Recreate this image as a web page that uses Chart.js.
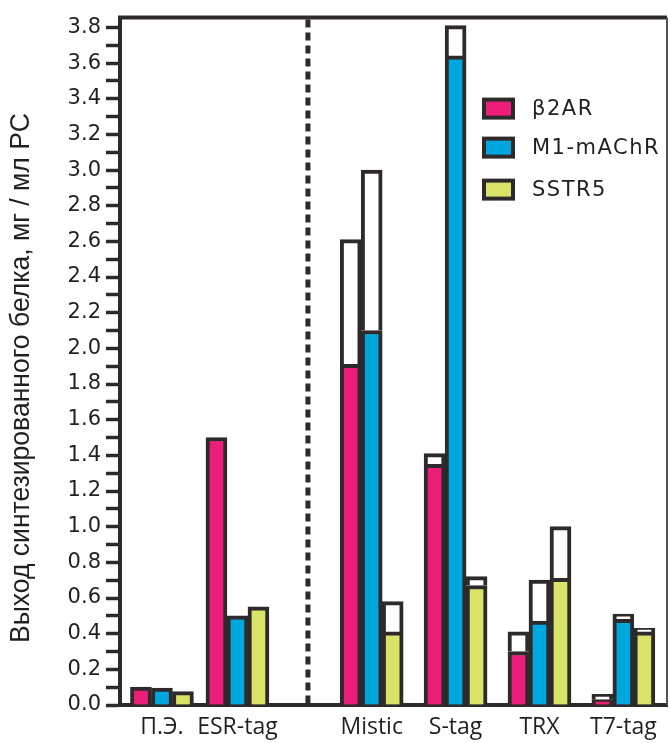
<!DOCTYPE html>
<html>
<head>
<meta charset="utf-8">
<script src="https://cdn.jsdelivr.net/npm/chart.js@4/dist/chart.umd.min.js"></script>
<style>
  html, body { margin: 0; padding: 0; background: #fff; }
  #wrap { width: 670px; height: 743px; }
</style>
</head>
<body>
<div id="wrap"><canvas id="grafico"></canvas></div>
<script>
const categorias = ['П.Э.', 'ESR-tag', 'Mistic', 'S-tag', 'TRX', 'T7-tag'];
const series = ['β2AR', 'M1-mAChR', 'SSTR5'];

// окрашенная часть столбика
const b2arBase  = [0.10, 1.50, 1.91, 1.35, 0.30, 0.03];
const m1Base    = [0.095, 0.50, 2.10, 3.64, 0.47, 0.48];
const sstr5Base = [0.075, 0.55, 0.41, 0.67, 0.71, 0.41];

// полная высота столбика (вместе с белой частью)
const b2arTotal  = [0.10, 1.50, 2.61, 1.41, 0.41, 0.06];
const m1Total    = [0.095, 0.50, 3.00, 3.81, 0.70, 0.51];
const sstr5Total = [0.075, 0.55, 0.58, 0.72, 1.00, 0.43];

const yLabels = ['0.0', '0.2', '0.4', '0.6', '0.8', '1.0', '1.2', '1.4', '1.6', '1.8',
                 '2.0', '2.2', '2.4', '2.6', '2.8', '3.0', '3.2', '3.4', '3.6', '3.8'];
const yTitulo = 'Выход синтезированного белка, мг / мл PC';

// раскладка групп по оси x (в долях шага), пунктир между ESR-tag и Mistic
const groupPos = [0.5, 1.4, 3, 4, 5, 6];
const dividerPos = 2.24;

const escuro = '#2e2a2b';
const cores = ['#ec1e79', '#00a6de', '#d9e368'];
const bases = [b2arBase, m1Base, sstr5Base];
const totais = [b2arTotal, m1Total, sstr5Total];

const datasets = [];
series.forEach((nome, s) => {
    datasets.push({
        label: nome,
        stack: 's' + s,
        data: groupPos.map((x, i) => ({x: x, y: bases[s][i]})),
        backgroundColor: cores[s],
        borderColor: escuro,
        borderWidth: 4
    });
    datasets.push({
        label: nome + ' max',
        stack: 's' + s,
        data: groupPos.map((x, i) => ({x: x, y: +(totais[s][i] - bases[s][i]).toFixed(3)})),
        backgroundColor: '#ffffff',
        borderColor: escuro,
        borderWidth: 4
    });
});

const molduraPlugin = {
    id: 'moldura',
    afterDatasetsDraw(chart) {
        const {ctx, chartArea: a, scales: {x}} = chart;
        ctx.save();
        ctx.strokeStyle = escuro;
        // верхняя рамка
        ctx.lineWidth = 4;
        ctx.beginPath();
        ctx.moveTo(a.left - 2, a.top);
        ctx.lineTo(a.right, a.top);
        ctx.stroke();
        // правая рамка
        ctx.strokeStyle = '#555';
        ctx.lineWidth = 2;
        ctx.beginPath();
        ctx.moveTo(a.right, a.top);
        ctx.lineTo(a.right, a.bottom);
        ctx.stroke();
        // пунктир
        const px = x.getPixelForValue(dividerPos);
        ctx.strokeStyle = escuro;
        ctx.lineWidth = 5;
        ctx.setLineDash([8, 5]);
        ctx.beginPath();
        ctx.moveTo(px, a.top + 2);
        ctx.lineTo(px, a.bottom);
        ctx.stroke();
        ctx.restore();
    }
};

const legendaPlugin = {
    id: 'legenda',
    afterDraw(chart) {
        const {ctx, chartArea: a} = chart;
        const tops = [80, 119, 161];
        ctx.save();
        ctx.font = '21px "DejaVu Sans"';
        ctx.letterSpacing = '1.5px';
        ctx.textBaseline = 'middle';
        series.forEach((nome, s) => {
            const bx = a.right - 185, by = a.top + tops[s];
            ctx.fillStyle = escuro;
            ctx.fillRect(bx, by, 33, 22);
            ctx.fillStyle = cores[s];
            ctx.fillRect(bx + 4, by + 4, 25, 14);
            ctx.fillStyle = '#231f20';
            ctx.fillText(nome, bx + 50, by + 12);
        });
        ctx.restore();
    }
};

const tituloPlugin = {
    id: 'tituloY',
    afterDraw(chart) {
        const {ctx} = chart;
        ctx.save();
        ctx.translate(22, 378);
        ctx.rotate(-Math.PI / 2);
        ctx.font = '27px "Liberation Sans"';
        ctx.fillStyle = '#231f20';
        ctx.textAlign = 'center';
        ctx.textBaseline = 'middle';
        const w = ctx.measureText(yTitulo).width;
        ctx.scale(530 / w, 1);
        ctx.fillText(yTitulo, 0, 0);
        ctx.restore();
    }
};

const ctx = document.getElementById('grafico').getContext('2d');
const grafico = new Chart(ctx, {
    type: 'bar',
    data: {datasets: datasets},
    options: {
        responsive: true,
        maintainAspectRatio: false,
        animation: false,
        layout: {padding: {top: 14, right: 3, left: 0, bottom: 0}},
        datasets: {bar: {barThickness: 21}},
        plugins: {
            legend: {display: false},
            tooltip: {enabled: false}
        },
        scales: {
            x: {
                type: 'linear',
                offset: false,
                min: 0,
                max: 6.52,
                grid: {display: false, drawTicks: false, offset: false},
                border: {display: true, color: escuro, width: 4},
                afterBuildTicks: scale => {
                    scale.ticks = groupPos.map(v => ({value: v}));
                },
                afterFit: scale => { scale.height = 38; },
                ticks: {
                    autoSkip: false,
                    maxRotation: 0,
                    padding: 9,
                    color: '#231f20',
                    font: {family: '"Open Sans"', size: 23},
                    callback: (v, i) => categorias[i]
                }
            },
            y: {
                stacked: true,
                min: 0,
                max: 3.855,
                grid: {
                    drawOnChartArea: false,
                    drawTicks: true,
                    tickLength: 14,
                    tickWidth: 3.5,
                    tickColor: escuro
                },
                border: {display: true, color: escuro, width: 4},
                afterFit: scale => { scale.width = 120; },
                ticks: {
                    stepSize: 0.1,
                    includeBounds: false,
                    autoSkip: false,
                    padding: 5,
                    color: '#231f20',
                    font: {family: '"DejaVu Sans"', size: 21},
                    callback: v => {
                        const k = Math.round(v * 10);
                        return k % 2 === 0 ? yLabels[k / 2] : '';
                    }
                }
            }
        }
    },
    plugins: [molduraPlugin, legendaPlugin, tituloPlugin]
});
</script>
</body>
</html>
